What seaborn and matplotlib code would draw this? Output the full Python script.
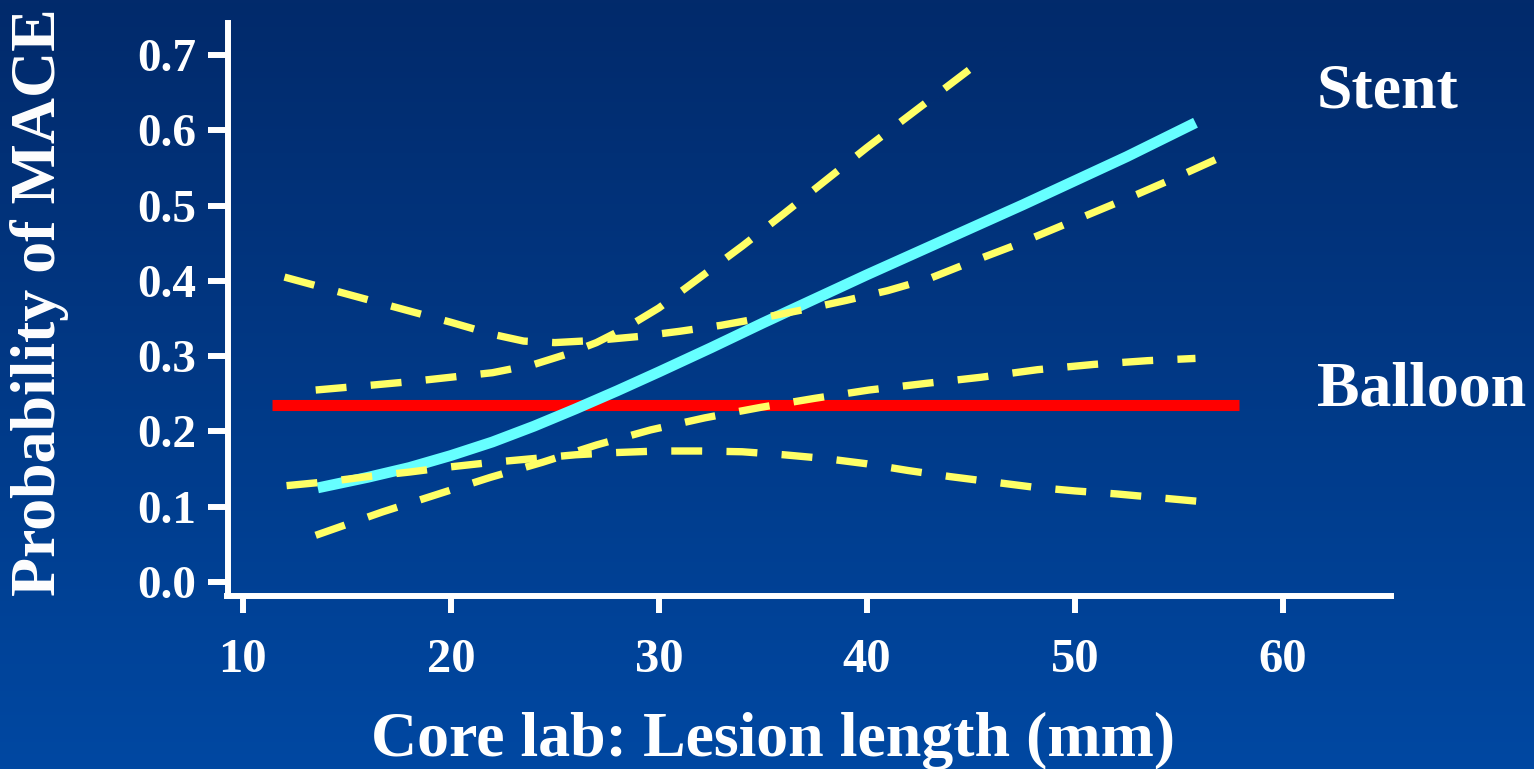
import numpy as np
import pandas as pd
import matplotlib
matplotlib.use("Agg")
import matplotlib.pyplot as plt
import seaborn as sns
from matplotlib.colors import LinearSegmentedColormap

# Fitted probability of MACE versus core-lab lesion length (mm)
stent_x = [13.6, 16.0, 18.0, 20.0, 22.0, 24.0, 26.0, 28.0, 30.0, 32.5, 35.0,
           37.5, 40.0, 42.5, 45.0, 47.5, 50.0, 52.5, 55.8]
stent_p = [0.125, 0.139, 0.152, 0.168, 0.186, 0.207, 0.230, 0.254, 0.279, 0.311,
           0.344, 0.376, 0.408, 0.439, 0.470, 0.501, 0.533, 0.565, 0.610]

stent_hi_x = [13.5, 16.0, 18.0, 20.0, 22.0, 24.0, 25.5, 27.0, 28.5, 30.0, 32.0,
              34.0, 36.0, 38.0, 40.0, 42.0, 44.0, 45.0]
stent_hi_p = [0.255, 0.261, 0.266, 0.272, 0.278, 0.289, 0.302, 0.318, 0.339, 0.364,
              0.405, 0.446, 0.489, 0.533, 0.577, 0.619, 0.661, 0.682]

stent_lo_x = [13.5, 16.7, 19.3, 21.9, 24.4, 27.0, 29.6, 32.2, 34.9, 37.5, 40.1,
              42.9, 45.5, 48.2, 50.9, 53.5, 55.8]
stent_lo_p = [0.062, 0.093, 0.116, 0.139, 0.159, 0.182, 0.202, 0.218, 0.232, 0.244,
              0.255, 0.264, 0.272, 0.282, 0.289, 0.294, 0.297]

balloon_x = [11.4, 57.9]
balloon_p = [0.235, 0.235]

balloon_hi_x = [12.0, 14.0, 16.0, 18.0, 20.0, 22.0, 23.5, 25.0, 27.0, 29.0, 31.0,
                33.0, 35.0, 37.0, 39.0, 41.0, 43.0, 45.0, 47.0, 49.0, 51.0, 53.0,
                55.0, 57.4]
balloon_hi_p = [0.405, 0.390, 0.375, 0.360, 0.345, 0.329, 0.320, 0.318, 0.321, 0.326,
                0.333, 0.341, 0.351, 0.362, 0.374, 0.387, 0.403, 0.425, 0.446, 0.469,
                0.492, 0.515, 0.539, 0.569]

balloon_lo_x = [12.1, 14.0, 16.0, 18.0, 20.0, 22.0, 24.0, 26.0, 28.0, 30.0, 32.0,
                34.0, 36.0, 38.0, 40.0, 42.0, 44.0, 46.0, 48.0, 50.0, 52.0, 54.0, 56.4]
balloon_lo_p = [0.128, 0.133, 0.140, 0.146, 0.153, 0.159, 0.164, 0.169, 0.172, 0.174,
                0.174, 0.173, 0.169, 0.164, 0.157, 0.148, 0.140, 0.133, 0.126, 0.121,
                0.117, 0.112, 0.106]

x_ticks = [10, 20, 30, 40, 50, 60]
y_ticks = [0.0, 0.1, 0.2, 0.3, 0.4, 0.5, 0.6, 0.7]
x_label = "Core lab: Lesion length (mm)"
y_label = "Probability of MACE"
group_labels = ["Stent", "Balloon"]

sns.set_style("ticks")
plt.rcParams["font.family"] = ["Liberation Serif", "DejaVu Serif"]
plt.rcParams["font.weight"] = "bold"

W, H = 1534, 769
fig = plt.figure(figsize=(W / 100, H / 100), dpi=100)

# vertical blue gradient backdrop
bg = fig.add_axes([0, 0, 1, 1], zorder=-10)
grad = np.linspace(0, 1, 256).reshape(-1, 1)
cmap = LinearSegmentedColormap.from_list("slide", ["#022a6b", "#0048a2"])
bg.imshow(grad, aspect="auto", cmap=cmap, extent=[0, 1, 0, 1], origin="upper")
bg.set_axis_off()

left_px, right_px, top_px, bottom_px = 227.5, 1391, 23, 596
ax = fig.add_axes([left_px / W, 1 - bottom_px / H,
                   (right_px - left_px) / W, (bottom_px - top_px) / H])
ax.patch.set_alpha(0)

sns.lineplot(x=balloon_x, y=balloon_p, ax=ax, color="#ff0000", lw=8,
             solid_capstyle="butt", zorder=2)
sns.lineplot(x=stent_x, y=stent_p, ax=ax, color="#66ffff", lw=7.8,
             solid_capstyle="butt", solid_joinstyle="round", zorder=3)
dash = (0, (4.2, 3.3))
for xs, ps in [(stent_hi_x, stent_hi_p), (stent_lo_x, stent_lo_p),
               (balloon_hi_x, balloon_hi_p), (balloon_lo_x, balloon_lo_p)]:
    sns.lineplot(x=xs, y=ps, ax=ax, color="#ffff66", lw=5.3,
                 linestyle=dash, dash_capstyle="butt", zorder=4)

ax.set_xlim(9.26, 65.2)
ax.set_ylim(-0.0186, 0.7425)

for side in ("top", "right"):
    ax.spines[side].set_visible(False)
for side in ("left", "bottom"):
    ax.spines[side].set_color("white")
    ax.spines[side].set_linewidth(4.3)

ax.set_xticks(x_ticks)
ax.set_xticklabels([str(t) for t in x_ticks])
ax.set_yticks(y_ticks)
ax.set_yticklabels([f"{t:.1f}" for t in y_ticks])
ax.tick_params(axis="x", colors="white", length=12, width=4.3, pad=18,
               labelsize=35, direction="out")
ax.tick_params(axis="y", colors="white", length=14.5, width=4.3, pad=8,
               labelsize=34, direction="out")
for lab in ax.get_xticklabels() + ax.get_yticklabels():
    lab.set_fontweight("bold")
    lab.set_color("white")

ax.set_xlabel(x_label, fontsize=46, fontweight="bold", color="white",
              va="baseline")
ax.xaxis.set_label_coords((773 - left_px) / (right_px - left_px),
                          (bottom_px - 756) / (bottom_px - top_px))
ax.set_ylabel(y_label, fontsize=46, fontweight="bold", color="white",
              va="center")
ax.yaxis.set_label_coords((40 - left_px) / (right_px - left_px),
                          (bottom_px - 302) / (bottom_px - top_px))

fig.text(1317 / W, 1 - 108 / H, group_labels[0], fontsize=46,
         fontweight="bold", color="white", ha="left", va="baseline")
fig.text(1317 / W, 1 - 405 / H, group_labels[1], fontsize=46,
         fontweight="bold", color="white", ha="left", va="baseline")

fig.savefig("out.png", dpi=100)
